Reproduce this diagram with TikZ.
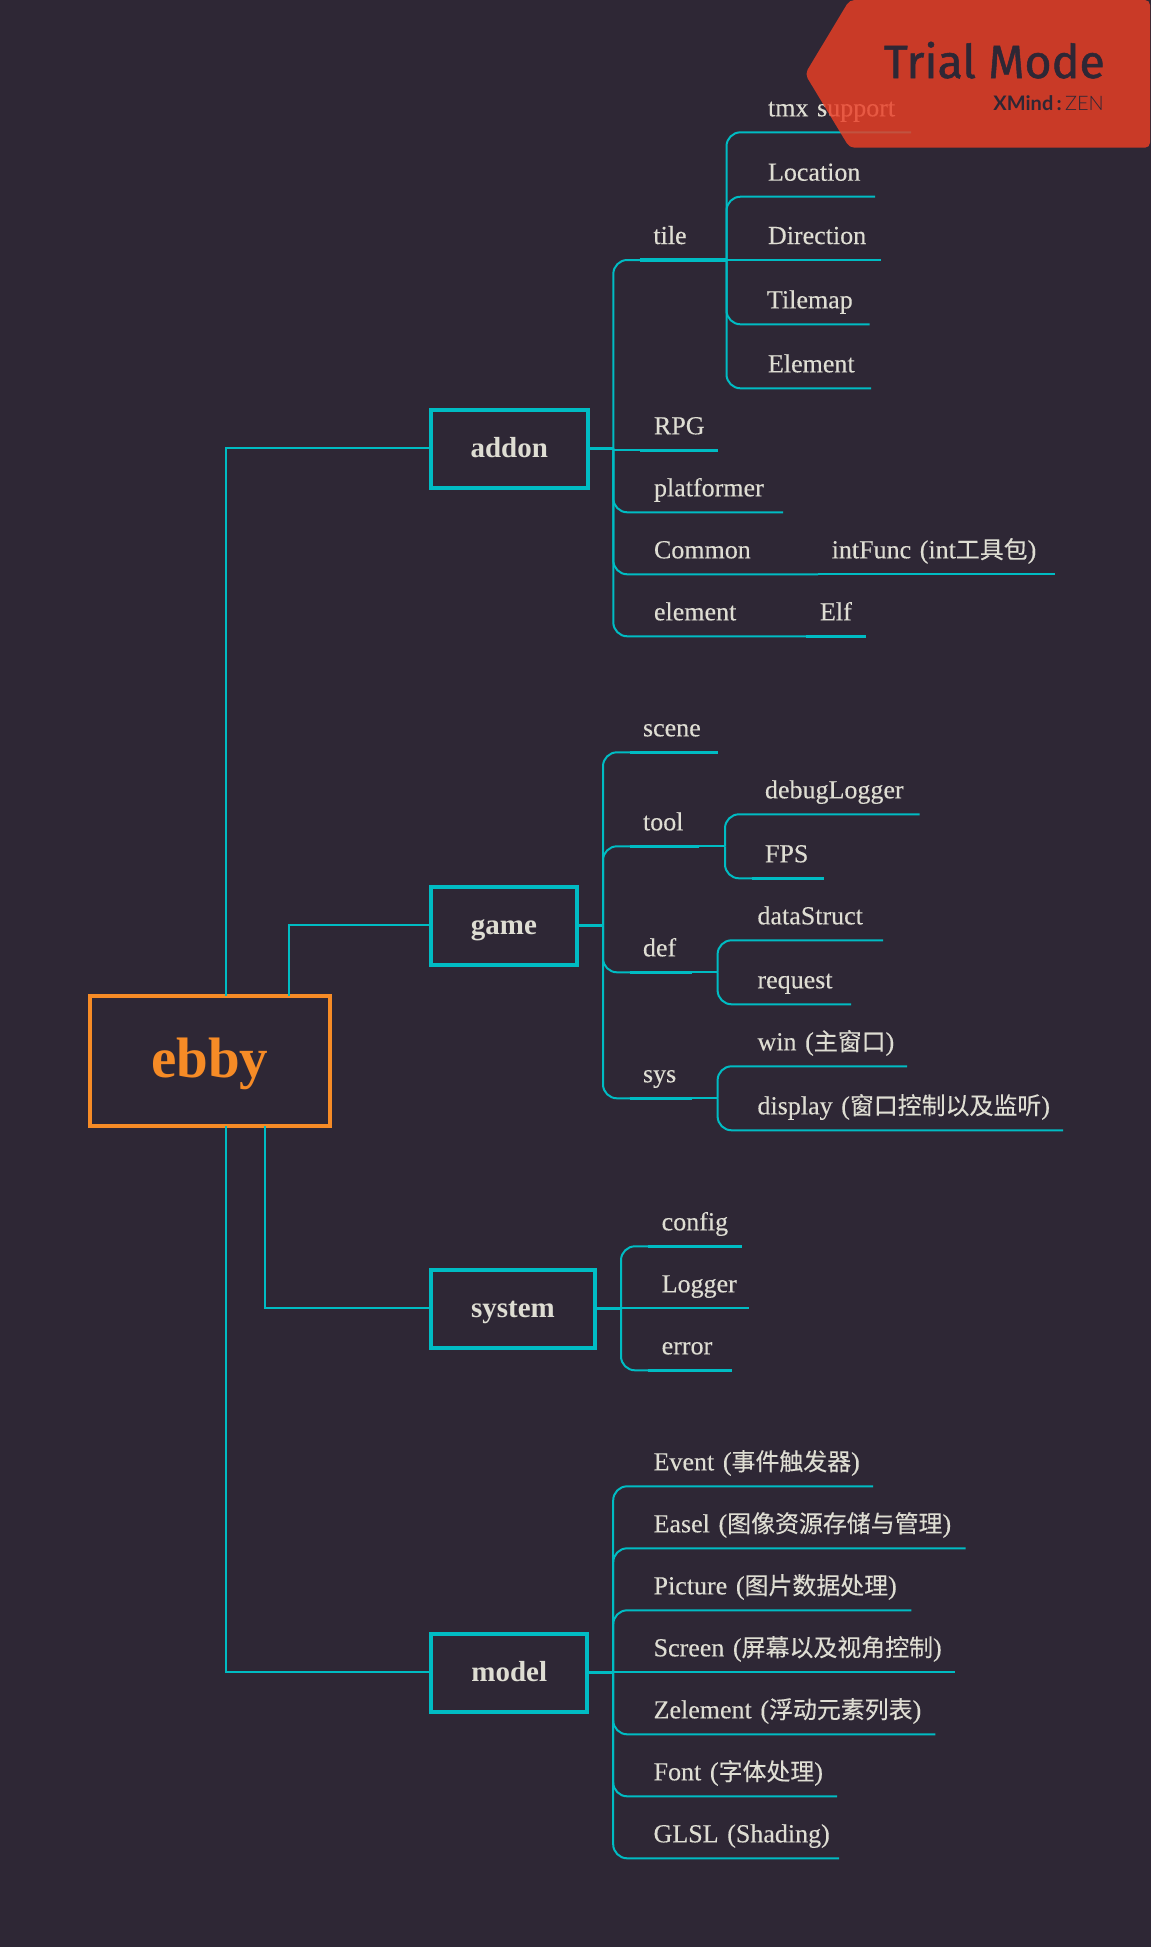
\documentclass[tikz,border=0pt]{standalone}
\usepackage{fontspec}
\setmainfont{Liberation Serif}
\newfontfamily\topicfont[FakeBold=0.25]{Liberation Serif}
\newfontfamily\zhfont[Scale=0.92,FakeBold=0.15]{Noto Sans CJK SC}
\newfontfamily\trialfont[FakeBold=1.1]{Fira Sans}
\newfontfamily\zenfont{Lato}
\newfontfamily\zenlight{Lato Light}
\newcommand\zh[1]{{\zhfont #1}}
\definecolor{bgc}{HTML}{2E2735}
\definecolor{teal}{HTML}{00BCC3}
\definecolor{txt}{HTML}{DEDDD3}
\definecolor{orng}{HTML}{F68B26}
\definecolor{bann}{HTML}{EA3E25}
\tikzset{
  topic/.style={anchor=south west,inner sep=0pt,outer sep=0pt,text height=20pt,text depth=16pt,align=left,text=txt,font=\topicfont\fontsize{26}{30}\selectfont},
  mainbox/.style={draw=teal,line width=4pt,inner sep=0pt,outer sep=0pt,text=txt,text height=16.5pt,text depth=0pt,font=\fontsize{29}{32}\selectfont\bfseries},
  rootbox/.style={draw=orng,line width=4pt,inner sep=0pt,outer sep=0pt,text=orng,text height=33pt,text depth=0pt,font=\fontsize{57}{60}\selectfont\bfseries},
  link/.style={draw=teal,line width=2pt},
  branch/.style={draw=teal,line width=2pt,rounded corners=14pt},
  heavy/.style={draw=teal,line width=3.4pt},
}
% name, start x, text x, line y, end x, text
\newcommand\topic[6]{%
  \pgfmathsetmacro\tw{#5-#2}%
  \pgfmathsetmacro\ti{#3-#2}%
  \node[topic,text width=\tw pt] (#1) at (#2,#4) {\hspace*{\ti pt}\mbox{#6}};%
}
\begin{document}
\begin{tikzpicture}[x=1pt,y=-1pt]
\useasboundingbox[fill=bgc] (0,0) rectangle (1151,1947);

% root and main topics
\node[rootbox,minimum width=239.7pt,minimum height=130pt] (ebby) at (209.8,1061) {ebby};
\node[mainbox,minimum width=156.6pt,minimum height=78pt] (addon) at (509.3,449.3) {addon};
\node[mainbox,minimum width=146pt,minimum height=78pt] (game) at (504,926.3) {game};
\node[mainbox,minimum width=164pt,minimum height=78pt] (system) at (513,1309.3) {system};
\node[mainbox,minimum width=156pt,minimum height=78pt] (model) at (509.3,1673) {model};

\coordinate (at) at (613.3,448.3);
\coordinate (gt) at (603,925.3);
\coordinate (st) at (621,1308.3);
\coordinate (mt) at (613.2,1672.3);
\coordinate (lka) at (225.7,448.3);
\coordinate (lkg) at (288.9,925.3);
\coordinate (lks) at (265,1308.3);
\coordinate (lkm) at (225.7,1672.3);

% root links
\draw[link] (ebby.north -| lka) -- (lka) -- (addon.west |- lka);
\draw[link] (ebby.north -| lkg) -- (lkg) -- (game.west |- lkg);
\draw[link] (ebby.south -| lks) -- (lks) -- (system.west |- lks);
\draw[link] (ebby.south -| lkm) -- (lkm) -- (model.west |- lkm);

% stubs
\draw[heavy] (addon.east |- at) -- (at);
\draw[heavy] (game.east |- gt) -- (gt);
\draw[heavy] (system.east |- st) -- (st);
\draw[heavy] (model.east |- mt) -- (mt);

% addon
\topic{tile}{639.7}{653.4}{260}{726.5}{tile}
\topic{rpg}{640}{654}{450.3}{717.7}{RPG}
\topic{platformer}{640}{654}{512.3}{783}{platformer}
\topic{common}{640}{654}{574.3}{818}{Common}
\topic{element}{640}{654}{636.3}{806}{element}
\topic{intfunc}{818}{831.7}{574.3}{1055}{intFunc (int\zh{工具包})}
\topic{elf}{806}{820}{636.3}{865.7}{Elf}
\topic{tmx}{754}{768}{132.3}{911}{tmx support}
\topic{location}{754}{768}{196.7}{875}{Location}
\topic{direction}{754}{768}{260}{881}{Direction}
\topic{tilemap}{754}{767}{324.3}{869.5}{Tilemap}
\topic{elementb}{754}{768}{388.3}{871}{Element}

\draw[branch] (at) |- (tile.south east);
\draw[link] (rpg.south west -| at) -- (rpg.south east);
\draw[branch] (at) |- (platformer.south east);
\draw[branch] (at) |- (common.south east);
\draw[branch] (at) |- (element.south east);
\draw[link] (common.south east) -- (intfunc.south east);
\draw[link] (element.south east) -- (elf.south east);
\draw[heavy] (tile.south west) -- (tile.south east);
\draw[heavy] (rpg.south west) -- (rpg.south east);
\draw[heavy] (elf.south west) -- (elf.south east);
\draw[branch] (tile.south east) |- (tmx.south east);
\draw[branch] (tile.south east) |- (location.south east);
\draw[link] (tile.south east) -- (direction.south east);
\draw[branch] (tile.south east) |- (tilemap.south east);
\draw[branch] (tile.south east) |- (elementb.south east);

% game
\topic{scene}{629.6}{643}{752.3}{717.5}{scene}
\topic{tool}{629.6}{643}{846.3}{699}{tool}
\topic{def}{629.6}{643}{972.3}{691.5}{def}
\topic{sys}{629.6}{643}{1098.3}{691.5}{sys}
\coordinate (toolt) at (725,846.3);
\coordinate (deft) at (717.6,972.3);
\coordinate (syst) at (717.6,1098.3);
\topic{debug}{751.6}{765}{814.3}{919.6}{debugLogger}
\topic{fps}{751.6}{765}{878.3}{823.6}{FPS}
\topic{datas}{744}{757.5}{940.3}{883}{dataStruct}
\topic{request}{744}{757.5}{1004.3}{851}{request}
\topic{win}{744}{757.5}{1066.3}{907}{win (\zh{主窗口})}
\topic{display}{744}{757.5}{1130.3}{1063}{display (\zh{窗口控制以及监听})}

\draw[branch] (gt) |- (scene.south east);
\draw[branch] (gt) |- (tool.south east);
\draw[branch] (gt) |- (def.south east);
\draw[branch] (gt) |- (sys.south east);
\draw[link] (tool.south east) -- (toolt);
\draw[link] (def.south east) -- (deft);
\draw[link] (sys.south east) -- (syst);
\draw[heavy] (scene.south west) -- (scene.south east);
\draw[heavy] (tool.south west) -- (tool.south east);
\draw[heavy] (def.south west) -- (def.south east);
\draw[heavy] (sys.south west) -- (sys.south east);
\draw[branch] (toolt) |- (debug.south east);
\draw[branch] (toolt) |- (fps.south east);
\draw[heavy] (fps.south west) -- (fps.south east);
\draw[branch] (deft) |- (datas.south east);
\draw[branch] (deft) |- (request.south east);
\draw[branch] (syst) |- (win.south east);
\draw[branch] (syst) |- (display.south east);

% system
\topic{config}{647.7}{661.7}{1246.3}{741.7}{config}
\topic{logger}{647.7}{661.7}{1308.3}{749.3}{Logger}
\topic{error}{647.7}{661.7}{1370.3}{731.7}{error}
\draw[branch] (st) |- (config.south east);
\draw[link] (st) -- (logger.south east);
\draw[branch] (st) |- (error.south east);
\draw[heavy] (config.south west) -- (config.south east);
\draw[heavy] (error.south west) -- (error.south east);

% model
\topic{event}{640}{653.6}{1486.3}{873}{Event (\zh{事件触发器})}
\topic{easel}{640}{653.6}{1548.3}{965.7}{Easel (\zh{图像资源存储与管理})}
\topic{picture}{640}{653.6}{1610.3}{911.4}{Picture (\zh{图片数据处理})}
\topic{screen}{640}{653.6}{1672.3}{955}{Screen (\zh{屏幕以及视角控制})}
\topic{zelement}{640}{653.6}{1734.3}{935.4}{Zelement (\zh{浮动元素列表})}
\topic{font}{640}{653.6}{1796.3}{837}{Font (\zh{字体处理})}
\topic{glsl}{640}{653.6}{1858.3}{839}{GLSL (Shading)}
\draw[branch] (mt) |- (event.south east);
\draw[branch] (mt) |- (easel.south east);
\draw[branch] (mt) |- (picture.south east);
\draw[link] (mt) -- (screen.south east);
\draw[branch] (mt) |- (zelement.south east);
\draw[branch] (mt) |- (font.south east);
\draw[branch] (mt) |- (glsl.south east);

% trial banner
\fill[bann,fill opacity=0.826,rounded corners=5pt] (849.5,0) -- (1150,0) -- (1150,147.7) -- (849.5,147.7) -- (805,74) -- cycle;
\node[anchor=base east,inner sep=0pt,text=bgc,font=\trialfont\fontsize{46.5}{50}\selectfont] (trial) at (1105,78) {Trial Mode};
\node[anchor=base east,inner sep=0pt,text=bgc,font=\fontsize{20}{24}\selectfont] (xmind) at (1104,110) {{\zenfont\bfseries XMind\,:\,}{\zenlight ZEN}};
\end{tikzpicture}
\end{document}
